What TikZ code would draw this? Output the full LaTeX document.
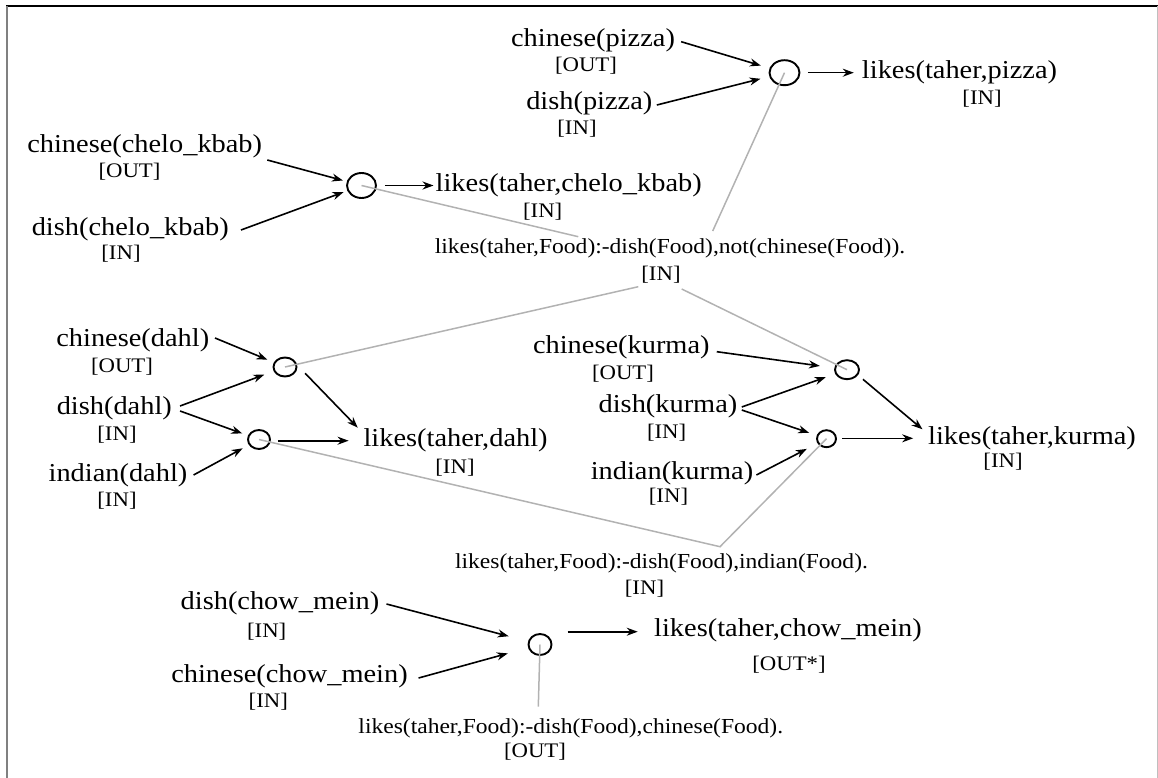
\documentclass[tikz,border=0pt]{standalone}
\usepackage{fontspec}
\setmainfont{Liberation Serif}[FakeStretch=1.10]
\usetikzlibrary{arrows.meta,calc,shapes.geometric}
\begin{document}
\begin{tikzpicture}[x=1pt,y=-1pt,
  big/.style={font=\fontsize{25.8}{29}\selectfont, inner sep=0pt},
  tag/.style={font=\fontsize{20.7}{24}\selectfont, inner sep=0pt},
  rulet/.style={font=\fontsize{21.4}{25}\selectfont, inner sep=0pt},
  junc/.style={draw, ellipse, line width=1.9pt, inner sep=0pt},
  arr/.style={line width=1.6pt, -{Stealth[length=11pt,width=8pt]}},
  link/.style={line width=1.5pt, draw=black!30},
]
\useasboundingbox (0,0) rectangle (1158,778);
% frame
\draw[line width=1.5pt] (6,6) -- (1157.5,6);
\draw[line width=2pt, black!50] (7,6) -- (7,778);
\draw[line width=1pt, black!25] (1157.5,6) -- (1157.5,778);

% ---------- pizza ----------
\node[big] (cP) at (593,40) {chinese(pizza)};
\node[tag] (cPt) at (586,66) {[OUT]};
\node[big] (dP) at (589.3,103) {dish(pizza)};
\node[tag] (dPt) at (577,129) {[IN]};
\node[junc, minimum width=30pt, minimum height=25pt] (P) at (784.5,72.7) {};
\node[big] (likesP) at (959.5,72) {likes(taher,pizza)};
\node[tag] (likesPt) at (982,99) {[IN]};

% ---------- chelo kbab ----------
\node[big] (cC) at (144.7,146.7) {chinese(chelo\_kbab)};
\node[tag] (cCt) at (129.5,172) {[OUT]};
\node[big] (dC) at (130.3,229) {dish(chelo\_kbab)};
\node[tag] (dCt) at (121,254) {[IN]};
\node[junc, minimum width=29pt, minimum height=25pt] (C) at (361.5,185.5) {};
\node[big] (likesC) at (568.7,185) {likes(taher,chelo\_kbab)};
\node[tag] (likesCt) at (542.7,211.7) {[IN]};

% ---------- rule 1 ----------
\node[rulet] (R1) at (670,248.3) {likes(taher,Food):-dish(Food),not(chinese(Food)).};
\node[tag] (R1t) at (661,275) {[IN]};

% ---------- dahl ----------
\node[big] (cD) at (132.8,340) {chinese(dahl)};
\node[tag] (cDt) at (122,366.7) {[OUT]};
\node[big] (dD) at (114.3,408) {dish(dahl)};
\node[tag] (dDt) at (117,435) {[IN]};
\node[big] (iD) at (118,475) {indian(dahl)};
\node[tag] (iDt) at (117,501) {[IN]};
\node[junc, minimum width=23pt, minimum height=19pt] (D1) at (285,367) {};
\node[junc, minimum width=22pt, minimum height=19pt] (D2) at (259,439.5) {};
\node[big] (likesD) at (455.6,440) {likes(taher,dahl)};
\node[tag] (likesDt) at (455,467.7) {[IN]};

% ---------- kurma ----------
\node[big] (cK) at (621.3,347.5) {chinese(kurma)};
\node[tag] (cKt) at (623,374) {[OUT]};
\node[big] (dK) at (668,406.7) {dish(kurma)};
\node[tag] (dKt) at (666.6,432.7) {[IN]};
\node[big] (iK) at (672,473) {indian(kurma)};
\node[tag] (iKt) at (668.5,496.7) {[IN]};
\node[junc, minimum width=24pt, minimum height=19pt] (K1) at (847,369.7) {};
\node[junc, minimum width=19pt, minimum height=17pt] (K2) at (826.5,438.7) {};
\node[big] (likesK) at (1032,438.3) {likes(taher,kurma)};
\node[tag] (likesKt) at (1003,461.7) {[IN]};

% ---------- rule 2 ----------
\node[rulet] (R2) at (661.5,563.3) {likes(taher,Food):-dish(Food),indian(Food).};
\node[tag] (R2t) at (644.5,588.3) {[IN]};

% ---------- chow mein ----------
\node[big] (dM) at (280,603.3) {dish(chow\_mein)};
\node[tag] (dMt) at (266.7,631.7) {[IN]};
\node[big] (cM) at (289.5,676.7) {chinese(chow\_mein)};
\node[tag] (cMt) at (268.3,701.7) {[IN]};
\node[junc, minimum width=23pt, minimum height=21pt] (M) at (540,644.5) {};
\node[big] (likesM) at (788,630) {likes(taher,chow\_mein)};
\node[tag] (likesMt) at (789,665) {[OUT*]};

% ---------- rule 3 ----------
\node[rulet] (R3) at (570.8,728.3) {likes(taher,Food):-dish(Food),chinese(Food).};
\node[tag] (R3t) at (535,751.7) {[OUT]};

% ---------- gray links ----------
\coordinate (g1) at (578.3,236.7);
\coordinate (g2) at (712.7,231);
\coordinate (g3) at (638.3,286.7);
\coordinate (g4) at (681.7,289);
\coordinate (g5) at (720,546.7);
\coordinate (g6) at (538.3,706.7);
\draw[link] (C.center) -- (g1);
\draw[link] (P.center) -- (g2);
\draw[link] (D1.center) -- (g3);
\draw[link] (K1.center) -- (g4);
\draw[link] (D2.center) -- (g5) -- (K2.center);
\draw[link] (M.center) -- (g6);

% ---------- arrows ----------
% chelo
\draw[arr, shorten >=4pt] ($(cC.east)+(5,13.3)$) -- (C);
\draw[arr, shorten >=4pt] ($(dC.east)+(12,1)$) -- (C);
\draw[arr] ($(C.east)+(8,0)$) -- ($(C.east -| likesC.west)+(-2,0)$);
% pizza
\draw[arr, shorten >=9pt] ($(cP.east)+(6,1.7)$) -- (P);
\draw[arr, shorten >=9pt] ($(dP.east)+(4.3,2)$) -- (P);
\draw[arr] ($(P.east)+(7.5,0)$) -- ($(P.east -| likesP.west)+(-8,0)$);
% dahl
\draw[arr, shorten >=7pt] ($(cD.east)+(5.6,-2)$) -- (D1);
\draw[arr, shorten >=10pt] ($(dD.east)+(8,-2)$) -- (D1);
\draw[arr, shorten >=6pt] ($(dD.east)+(8,3)$) -- (D2);
\draw[arr, shorten >=7pt] ($(iD.east)+(6,0)$) -- (D2);
\draw[arr] ($(D1.east)+(7.7,6.3)$) -- ($(likesD.west)+(-5.6,-12.3)$);
\draw[arr] ($(D2.east)+(7,1.2)$) -- ($(D2.east -| likesD.west)+(-14.8,1.2)$);
% kurma
\draw[arr, shorten >=14.5pt] ($(cK.east)+(7,4.2)$) -- (K1);
\draw[arr, shorten >=10pt] ($(dK.east)+(4.2,0.3)$) -- (K1);
\draw[arr, shorten >=8pt] ($(dK.east)+(4.2,3.3)$) -- (K2);
\draw[arr, shorten >=12pt] ($(iK.east)+(3,2)$) -- (K2);
\draw[arr] ($(K1.east)+(3,9.6)$) -- ($(likesK.west)+(-5.5,-9)$);
\draw[arr] ($(K2.east)+(5.4,-0.4)$) -- ($(K2.east -| likesK.west)+(-14.8,-0.4)$);
% chow mein
\draw[arr, shorten >=20pt] ($(dM.east)+(7,0.7)$) -- (M);
\draw[arr, shorten >=21pt] ($(cM.east)+(10.7,1.3)$) -- (M);
\draw[arr] ($(M.east)+(15.2,-12.8)$) -- ($(M.east -| likesM.west)+(-16.3,-12.8)$);
\end{tikzpicture}
\end{document}
